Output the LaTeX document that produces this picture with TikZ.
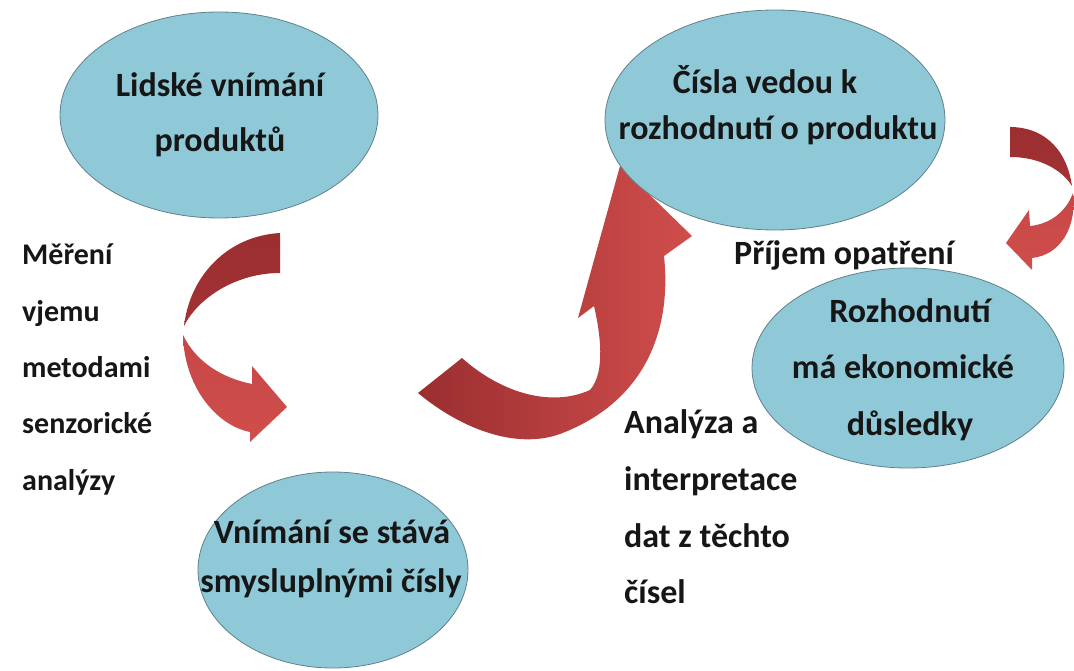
\documentclass[tikz,border=0pt]{standalone}
\usepackage{fontspec}
\setmainfont{Carlito}
\usetikzlibrary{shapes.geometric}
\definecolor{bubblue}{RGB}{143,201,216}
\definecolor{bubline}{RGB}{96,128,140}
\definecolor{arrdark}{RGB}{155,46,48}
\definecolor{arrlight}{RGB}{208,78,76}
\definecolor{txt}{RGB}{22,22,22}
\tikzset{
	bubble/.style={ellipse, draw=bubline, line width=0.8pt, fill=bubblue, inner sep=0pt},
	bubtext/.style={font=\fontsize{34}{40}\selectfont\bfseries, text=txt, inner sep=0pt, anchor=base},
	sidetext/.style={font=\fontsize{30}{36}\selectfont\bfseries, text=txt, inner sep=0pt, anchor=base west},
	righttext/.style={font=\fontsize{34}{40}\selectfont\bfseries, text=txt, inner sep=0pt, anchor=base west}
}
\begin{document}
\begin{tikzpicture}[x=1pt,y=-1pt]
	%%%%% START %%%%%
	\useasboundingbox (0,0) rectangle (1074,671);
	
	% left arrow, twisted
	\shade[top color=arrdark, bottom color=arrdark!85!arrlight] (280,233) .. controls (228,236) and (190,275) .. (184,326) .. controls (198,298) and (236,273) .. (280,273) -- cycle;
	\shade[top color=arrlight!80!arrdark, bottom color=arrlight] (183,335) .. controls (184,385) and (215,425) .. (250,432) -- (250,442) -- (287,407) -- (252,366) -- (252,384) .. controls (222,378) and (196,362) .. cycle;
	
	% big middle arrow
	\shade[left color=arrdark, right color=arrlight] (418,393) -- (462,358) .. controls (500,392) and (550,408) .. (590,390) .. controls (606,372) and (600,332) .. (594,306) -- (578,318) -- (620,166) -- (692,236) -- (664,256) .. controls (672,330) and (645,402) .. (560,434) .. controls (515,450) and (460,428) .. cycle;
	
	% right arrow
	\shade[top color=arrdark, bottom color=arrdark!85!arrlight] (1010,127) .. controls (1040,127) and (1066,145) .. (1072,186) .. controls (1062,170) and (1040,157) .. (1010,157) -- cycle;
	\shade[top color=arrlight!80!arrdark, bottom color=arrlight] (1073,193) .. controls (1077,228) and (1060,255) .. (1032,258) -- (1032,270) -- (1006,243) -- (1029,210) -- (1030,226) .. controls (1050,224) and (1066,212) .. cycle;
	
	% ellipses
	\node[bubble, minimum width=318, minimum height=206] (lidske) at (219,115) {};
	\node[bubble, minimum width=340, minimum height=220] (cisla) at (775,120) {};
	\node[bubble, minimum width=312, minimum height=200] (rozhodnuti) at (908,368) {};
	\node[bubble, minimum width=270, minimum height=196] (vnimani) at (333,570) {};
	
	\node[bubtext] (lidskeA) at (220,97) {Lidské vnímání};
	\node[bubtext] (lidskeB) at (220,152) {produktů};
	
	\node[bubtext] (cislaA) at (765,94) {Čísla vedou k};
	\node[bubtext] (cislaB) at (778,140) {rozhodnutí o produktu};
	
	\node[bubtext] (rozhodnutiA) at (910,322) {Rozhodnutí};
	\node[bubtext] (rozhodnutiB) at (903,378) {má ekonomické};
	\node[bubtext] (rozhodnutiC) at (910,435) {důsledky};
	
	\node[bubtext] (vnimaniA) at (332,543) {Vnímání se stává};
	\node[bubtext] (vnimaniB) at (331,592) {smysluplnými čísly};
	
	% side texts
	\node[sidetext] (mereniA) at (22,265) {Měření};
	\node[sidetext] (mereniB) at (22,321) {vjemu};
	\node[sidetext] (mereniC) at (22,377) {metodami};
	\node[sidetext] (mereniD) at (22,433) {senzorické};
	\node[sidetext] (mereniE) at (22,490) {analýzy};
	
	\node[righttext] (prijem) at (734,265) {Příjem opatření};
	
	\node[righttext] (analyzaA) at (624,433) {Analýza a};
	\node[righttext] (analyzaB) at (624,490) {interpretace};
	\node[righttext] (analyzaC) at (624,547) {dat z těchto};
	\node[righttext] (analyzaD) at (624,603) {čísel};
	%%%%% END %%%%%
\end{tikzpicture}
\end{document}
